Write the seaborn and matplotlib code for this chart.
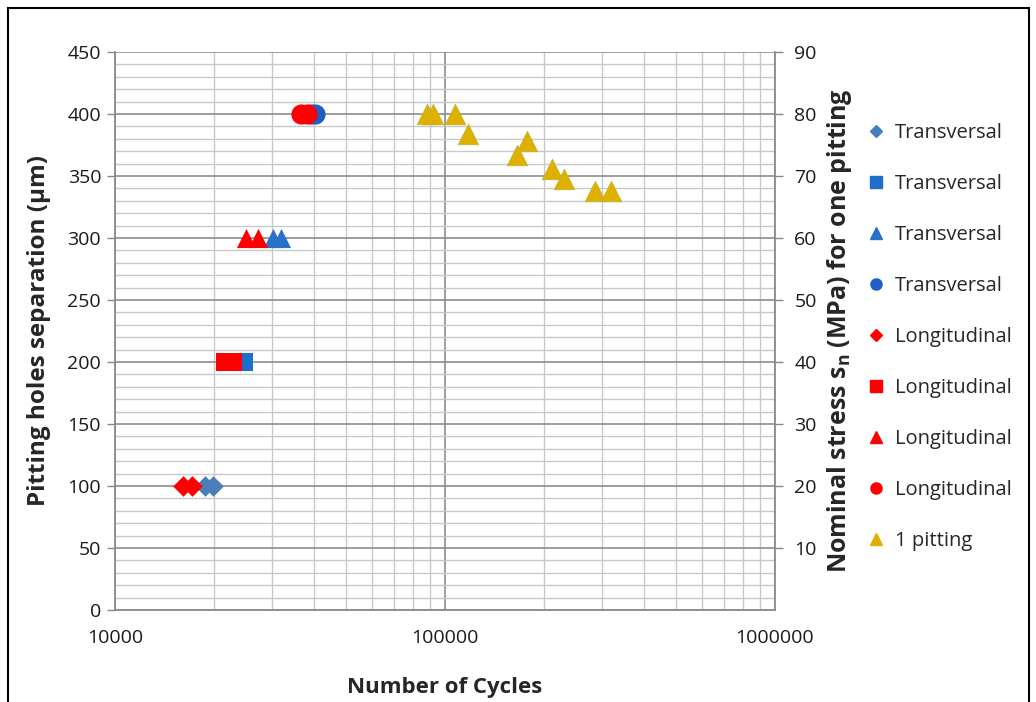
import matplotlib
matplotlib.use("Agg")
import matplotlib.pyplot as plt
import matplotlib.ticker as mticker
from matplotlib.patches import Rectangle
import seaborn as sns
import numpy as np

sns.set_theme(style="white")
plt.rcParams['font.family'] = ['Open Sans', 'DejaVu Sans']
plt.rcParams['mathtext.fontset'] = 'custom'
plt.rcParams['mathtext.rm'] = 'Open Sans'
plt.rcParams['mathtext.bf'] = 'Open Sans:bold'

# ---- data ----
trans_diamond_x = [18800, 19770]
trans_square_x = [23700, 24550]
trans_triangle_x = [30100, 31850]
trans_circle_x = [39330, 40450]
long_diamond_x = [16100, 17070]
long_square_x = [21500, 22750]
long_triangle_x = [24900, 27100]
long_circle_x = [36650, 38200]
sep_100 = [100, 100]
sep_200 = [200, 200]
sep_300 = [300, 300]
sep_400 = [400, 400]

pit_cycles = [88100, 91900, 107200, 117400, 165800, 176700, 210500, 229000, 284700, 318400]
pit_stress = [80, 80, 80, 76.8, 73.4, 75.6, 71.1, 69.5, 67.6, 67.6]

labels = ["Transversal", "Transversal", "Transversal", "Transversal",
          "Longitudinal", "Longitudinal", "Longitudinal", "Longitudinal", "1 pitting"]

fig = plt.figure(figsize=(10.36, 7.02), dpi=100)
ax = fig.add_axes([0.111, 0.131, 0.637, 0.795])

series = [
    (trans_diamond_x, sep_100, "D", "#4A7EBB", 110),
    (trans_square_x, sep_200, "s", "#1E6FCC", 170),
    (trans_triangle_x, sep_300, "^", "#2A72C8", 190),
    (trans_circle_x, sep_400, "o", "#1F5EC4", 210),
    (long_diamond_x, sep_100, "D", "#FF0000", 110),
    (long_square_x, sep_200, "s", "#FF0000", 170),
    (long_triangle_x, sep_300, "^", "#FF0000", 190),
    (long_circle_x, sep_400, "o", "#FF0000", 210),
]
handles = []
for (xs, ys, m, c, s), lab in zip(series, labels[:8]):
    sns.scatterplot(x=xs, y=ys, marker=m, color=c, s=s, linewidth=0, ax=ax, zorder=3)
    handles.append(plt.Line2D([], [], marker=m, color=c, linestyle='none',
                              markersize=8 if m != 'D' else 6.5, label=lab))

ax.set_xscale('log')
ax.set_xlim(10000, 1000000)
ax.set_ylim(0, 450)
ax.set_yticks(np.arange(0, 451, 50))
ax.yaxis.set_minor_locator(mticker.MultipleLocator(10))
ax.xaxis.set_major_locator(mticker.FixedLocator([10000, 100000, 1000000]))
ax.xaxis.set_major_formatter(mticker.FixedFormatter(["10000", "100000", "1000000"]))
ax.xaxis.set_minor_locator(mticker.LogLocator(base=10, subs=np.arange(2, 10)))
ax.xaxis.set_minor_formatter(mticker.NullFormatter())

ax.grid(which='major', axis='both', color='#8C8C8C', linewidth=1.2, zorder=0)
ax.grid(which='minor', axis='both', color='#C8C8C8', linewidth=1.0, zorder=0)
ax.set_axisbelow(True)

for side in ['top', 'right']:
    ax.spines[side].set_visible(False)
ax.spines['left'].set_color('#888888')
ax.spines['bottom'].set_color('#888888')
ax.tick_params(axis='both', which='major', direction='out', length=6, width=1,
               color='#888888', labelsize=14, pad=4, labelcolor='#1a1a1a')
ax.tick_params(axis='both', which='minor', length=0)
ax.tick_params(axis='x', which='major', pad=8)

ax.set_xlabel("Number of Cycles", fontsize=16, fontweight='bold', labelpad=21)
ax.set_ylabel("Pitting holes separation (μm)", fontsize=17.5, fontweight='bold', labelpad=12)

ax2 = ax.twinx()
sns.scatterplot(x=pit_cycles, y=pit_stress, marker="^", color="#E0B000",
                edgecolor="#B8B830", linewidth=0.5, s=220, ax=ax2, zorder=3)
handles.append(plt.Line2D([], [], marker='^', color="#E0B000", linestyle='none',
                          markersize=8, label=labels[8]))
ax2.set_ylim(0, 90)
ax2.set_yticks(np.arange(10, 91, 10))
ax2.tick_params(axis='y', direction='out', length=6, width=1, color='#888888',
                labelsize=14, pad=8, labelcolor='#1a1a1a')
for side in ['top', 'left', 'bottom']:
    ax2.spines[side].set_visible(False)
ax2.spines['right'].set_color('#888888')
ax2.set_ylabel(r"Nominal stress s$_\mathbf{n}$ (MPa) for one pitting", fontsize=18,
               fontweight='bold', labelpad=6)
ax2.grid(False)

fig.legend(handles=handles, loc='upper left', bbox_to_anchor=(0.828, 0.836),
           frameon=False, fontsize=14.5, labelspacing=1.54, handletextpad=0.45,
           handlelength=1.0, borderaxespad=0)

fig.add_artist(Rectangle((0.008, -0.01), 0.985, 0.998, transform=fig.transFigure,
                         fill=False, edgecolor='black', linewidth=1.5))

fig.savefig("out.png", dpi=100)
